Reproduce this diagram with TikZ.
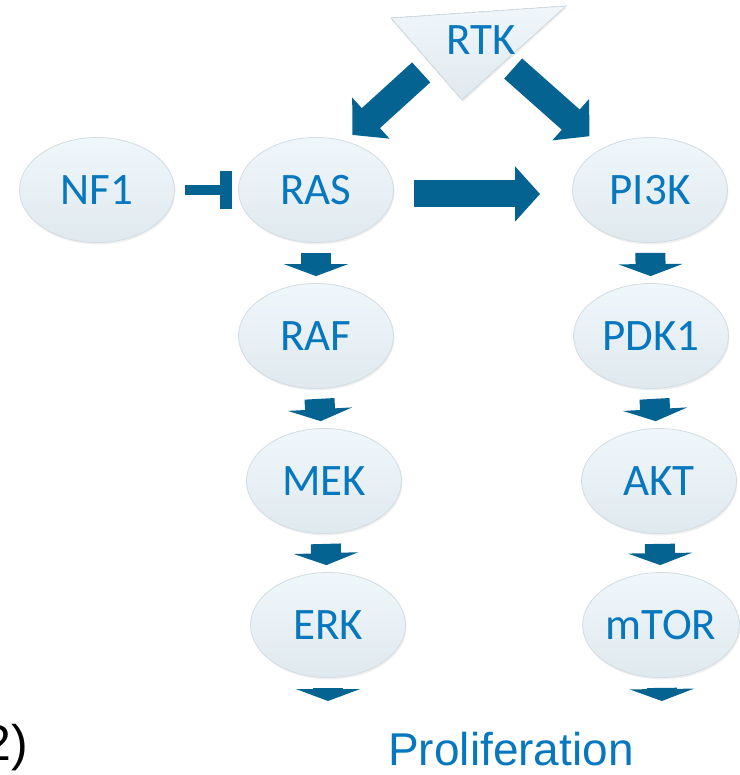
\documentclass[tikz,border=0pt]{standalone}
\usepackage{fontspec}
\setmainfont{Carlito}
\newfontfamily\arialfont{Liberation Sans}
\usetikzlibrary{shapes.geometric,arrows.meta,shadows}
\definecolor{pathblue}{RGB}{5,99,145}
\definecolor{labelblue}{RGB}{8,120,190}
\definecolor{cellfill}{RGB}{239,247,251}
\definecolor{cellshade}{RGB}{224,233,238}
\definecolor{cellline}{RGB}{210,220,226}

\begin{document}
\begin{tikzpicture}[x=1pt, y=-1pt]
    \tikzstyle{protein} = [ellipse, minimum width=155pt, minimum height=105pt, inner sep=0pt, top color=cellfill, bottom color=cellshade, draw=cellline, line width=0.8pt, text=labelblue, font=\fontsize{45}{54}\selectfont, drop shadow={opacity=0.12, shadow xshift=1pt, shadow yshift=-2pt}]
    \tikzstyle{bigarrow} = [draw=pathblue, line width=27pt, -{Triangle[length=25pt, width=54pt]}]
    \tikzstyle{smallarrow} = [draw=pathblue, line width=30pt, -{Triangle[length=12pt, width=64pt]}, shorten <=10pt, shorten >=7pt]
    \tikzstyle{inhibit} = [draw=pathblue, line width=10pt, -{Bar[width=38pt, line width=12pt]}, shorten <=10pt, shorten >=6pt]

    \useasboundingbox (0,0) rectangle (739,775);

    % Receptor
    \filldraw[top color=cellfill, bottom color=cellshade, draw=cellline, line width=0.8pt, drop shadow={opacity=0.12, shadow xshift=1pt, shadow yshift=-2pt}] (391,18) -- (566,6) -- (462,100) -- cycle;
    \node[text=labelblue, font=\fontsize{45}{54}\selectfont] (rtk) at (481,40) {RTK};

    % MAPK branch
    \node [protein] (nf1) at (97,190) {NF1};
    \node [protein] (ras) at (316,190) {RAS};
    \node [protein] (raf) at (316,336) {RAF};
    \node [protein] (mek) at (324,481) {MEK};
    \node [protein] (erk) at (328,625) {ERK};

    % PI3K branch
    \node [protein] (pi3k) at (650,190) {PI3K};
    \node [protein] (pdk1) at (651,336) {PDK1};
    \node [protein] (akt) at (659,481) {AKT};
    \node [protein] (mtor) at (661,625) {mTOR};

    % Outputs
    \coordinate (erkout) at (328,708);
    \coordinate (mtorout) at (662,708);
    \node[anchor=base, text=labelblue, font=\arialfont\fontsize{46}{55}\selectfont] (prolif) at (511,765) {Proliferation};
    \node[anchor=base east, inner sep=0pt, font=\arialfont\fontsize{50}{60}\selectfont] (panel) at (28,760) {2)};

    % Connections
    \draw [bigarrow, shorten <=66pt, shorten >=64pt] ([shift={(-11,-12)}]rtk.center) -- ([shift={(-11,-12)}]ras.center);
    \draw [bigarrow, shorten <=43pt, shorten >=81pt] (rtk.center) -- (pi3k.center);
    \draw [bigarrow, shorten <=98pt, shorten >=110pt] ([yshift=-4pt]ras.center) -- ([yshift=-4pt]pi3k.center);
    \draw [inhibit] (nf1) -- (ras);

    \draw [smallarrow] (ras) -- (raf);
    \draw [smallarrow] (raf) -- (mek);
    \draw [smallarrow] (mek) -- (erk);
    \draw [smallarrow] (erk) -- (erkout);

    \draw [smallarrow] (pi3k) -- (pdk1);
    \draw [smallarrow] (pdk1) -- (akt);
    \draw [smallarrow] (akt) -- (mtor);
    \draw [smallarrow] (mtor) -- (mtorout);
\end{tikzpicture}
\end{document}
